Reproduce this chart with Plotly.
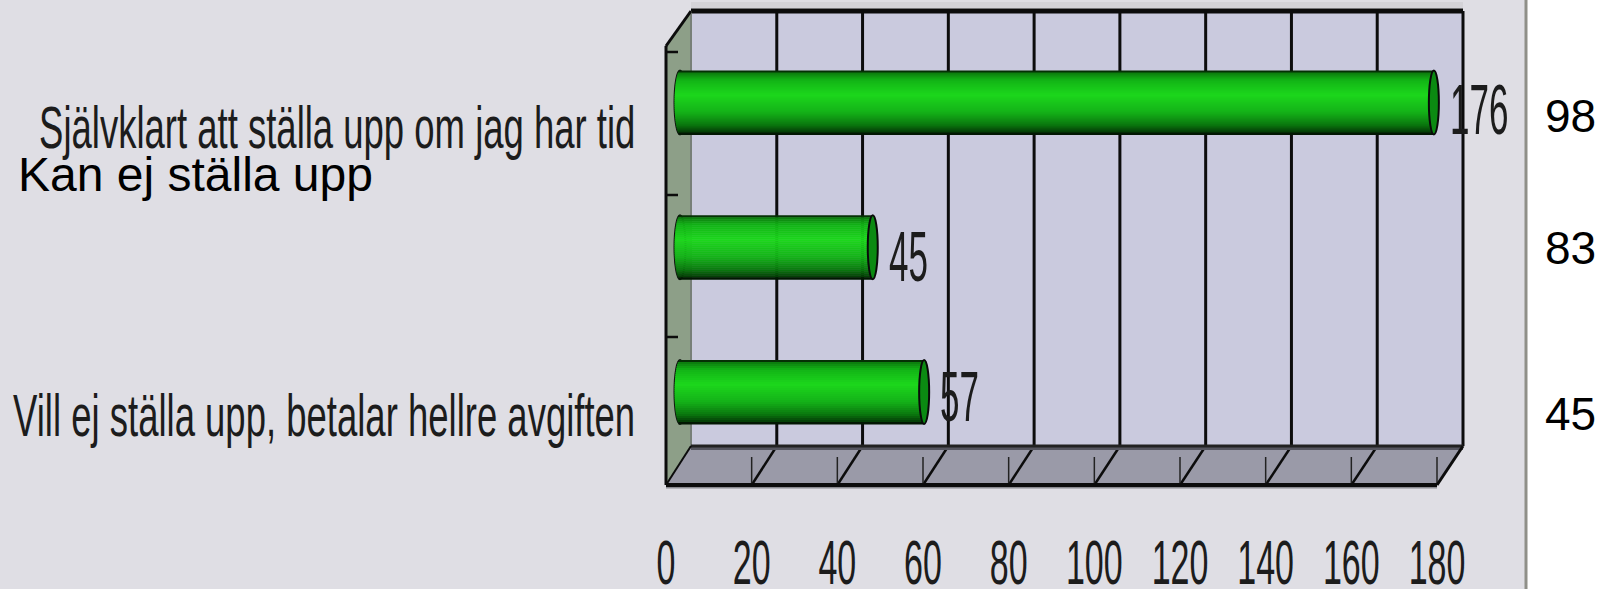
import math
import plotly.graph_objects as go

categories = ["Självklart att ställa upp om jag har tid", "Kan ej ställa upp",
              "Vill ej ställa upp, betalar hellre avgiften"]
values = [176, 45, 57]
side_numbers = ["98", "83", "45"]
tick_vals = [0, 20, 40, 60, 80, 100, 120, 140, 160, 180]

W, H = 1613, 589
ARIAL = "Liberation Sans"
BG = "#DFDEE4"
INK = "#0c0c0c"

# pixel layout of the pseudo-3D box
FX0, FX1 = 666.0, 1437.0      # front edge: value 0 .. 180
BX0, BX1 = 691.0, 1463.0      # back wall
TOP, BACK_B, FRONT_B, FRONT_T = 11.0, 446.0, 485.0, 46.0
PX_PER = (FX1 - FX0) / 180.0
BAR_X0 = 680.0
ROW0, ROW_STEP, BAR_H = 102.5, 144.75, 64.0


def px(x):
    return x / W


def py(y):
    return 1 - y / H


def poly(points, fill, line=None, lw=0, layer="below"):
    path = "M " + " L ".join(f"{px(x):.5f},{py(y):.5f}" for x, y in points) + " Z"
    return dict(type="path", xref="paper", yref="paper", path=path, fillcolor=fill,
                line=dict(color=line or fill, width=lw), layer=layer)


def seg(x0, y0, x1, y1, w=3, color=INK, layer="below"):
    return dict(type="line", xref="paper", yref="paper", x0=px(x0), y0=py(y0), x1=px(x1), y1=py(y1),
                line=dict(color=color, width=w), layer=layer)


shapes = [
    dict(type="rect", xref="paper", yref="paper", x0=px(1527), x1=1, y0=0, y1=1,
         fillcolor="#FFFFFF", line=dict(width=0), layer="below"),
    seg(1526, 0, 1526, H, 3, "#8f8f88"),
    seg(691, 5, 1463, 5, 6, "#d4d3d8"),
    poly([(BX0, TOP), (BX1, TOP), (BX1, BACK_B), (BX0, BACK_B)], "#CACADE"),
    poly([(FX0, FRONT_T), (BX0, TOP), (BX0, BACK_B), (FX0, FRONT_B)], "#8D9F88"),
    poly([(FX0, FRONT_B), (BX0, BACK_B), (BX1, BACK_B), (FX1, FRONT_B)], "#9A9AA8"),
]
for v in tick_vals[1:-1]:
    bx = BX0 + (BX1 - BX0) * v / 180
    fx = FX0 + (FX1 - FX0) * v / 180
    shapes.append(seg(bx, TOP, bx, BACK_B, 3))
    shapes.append(seg(bx, BACK_B, fx, FRONT_B, 2.5))
for v in tick_vals[1:]:
    fx = FX0 + (FX1 - FX0) * v / 180
    shapes.append(seg(fx, 457, fx, FRONT_B, 1.5, "#222222"))
shapes += [
    seg(BX0, BACK_B + 2, BX1, BACK_B + 2, 4, "#55555f"),
    seg(BX0, TOP, BX1, TOP, 5),
    seg(BX1, TOP, BX1, BACK_B, 3),
    seg(BX0, TOP, BX0, BACK_B, 2, "#777f78"),
    seg(BX0, BACK_B, BX1, BACK_B, 3, "#222222"),
    seg(FX0, FRONT_T, BX0, TOP, 3),
    seg(FX0, FRONT_T, FX0, FRONT_B, 3),
    seg(FX0, FRONT_B + 2, FX1, FRONT_B + 2, 3, "#8a8a90"),
    seg(FX0, FRONT_B, FX1, FRONT_B, 4),
    seg(FX0, FRONT_B, BX0, BACK_B, 2),
    seg(FX1, FRONT_B, BX1, BACK_B, 3),
]
for y in (52, 195, 337):
    shapes.append(seg(FX0, y, 678, y, 2.5))

STOPS = [(0.0, (0, 0, 0)), (0.04, (12, 125, 14)), (0.15, (18, 180, 22)), (0.38, (28, 215, 28)),
         (0.65, (20, 178, 24)), (0.85, (10, 120, 14)), (0.96, (4, 60, 6)), (1.0, (0, 0, 0))]


def shade(t):
    for (a, ca), (b, cb) in zip(STOPS, STOPS[1:]):
        if t <= b:
            f = (t - a) / (b - a)
            return "rgb(%d,%d,%d)" % tuple(round(p + (q - p) * f) for p, q in zip(ca, cb))
    return "rgb(0,0,0)"


fig = go.Figure()
fig.add_trace(go.Scatter(x=tick_vals, y=[0] * len(tick_vals), mode="none", xaxis="x", yaxis="y",
                         hoverinfo="skip", showlegend=False))

rows = list(range(len(values)))
N = 32
band = BAR_H / N / ROW_STEP
for i in range(N):
    t = (i + 0.5) / N
    bulge = -(5.5 / PX_PER) * math.sqrt(max(0, 1 - (2 * t - 1) ** 2))
    fig.add_trace(go.Bar(
        orientation="h", y=rows, x=[v - bulge for v in values], base=[bulge] * 3,
        width=band * 1.3, offset=-BAR_H / 2 / ROW_STEP + i * band, opacity=1,
        marker=dict(color=shade(t), line=dict(width=0), opacity=1), xaxis="x2", yaxis="y",
        hoverinfo="skip", showlegend=False))

for i, v in enumerate(values):
    shapes.append(dict(type="circle", xref="x2", yref="y", xsizemode="pixel", ysizemode="pixel",
                       xanchor=0, yanchor=i, x0=-5.5, x1=5.5, y0=-BAR_H / 2, y1=BAR_H / 2,
                       fillcolor="rgba(0,0,0,0)", line=dict(color="#111111", width=2), layer="below"))
    shapes.append(dict(type="circle", xref="x2", yref="y", xsizemode="pixel", ysizemode="pixel",
                       xanchor=v, yanchor=i, x0=-5, x1=5, y0=-BAR_H / 2, y1=BAR_H / 2,
                       fillcolor="#0B8A12", line=dict(color="#0a0a0a", width=2), layer="above"))

annotations = []


def note(text, x, y, anchor, size, color="#1c1c1c", xref="paper", xshift=0):
    annotations.append(dict(text=text, x=x, y=py(y), xref=xref, yref="paper", xanchor=anchor,
                            yanchor="middle", showarrow=False, xshift=xshift,
                            font=dict(size=size, family=ARIAL, color=color)))


note(categories[0], px(637), 127, "right", 36.5)
note(categories[2], px(637), 415, "right", 36.5)
note(categories[1], px(16), 174, "left", 48, "#000000")
LABEL_Y = [110, 256, 396]
for i, v in enumerate(values):
    note(str(v), v, LABEL_Y[i], "left", 35, xref="x2", xshift=14)
    note(side_numbers[i], px(1570), [116, 248, 414][i], "center", 46, "#000000")

fig.update_layout(
    width=W, height=H, margin=dict(l=0, r=0, t=0, b=0, autoexpand=False),
    paper_bgcolor=BG, plot_bgcolor="rgba(0,0,0,0)", barmode="overlay", showlegend=False,
    shapes=shapes, annotations=annotations,
    xaxis=dict(domain=[0, 1], range=[-FX0 / PX_PER, (W - FX0) / PX_PER], tickmode="array",
               tickvals=tick_vals, ticktext=[str(v) for v in tick_vals], showgrid=False,
               zeroline=False, showline=False, ticks="", anchor="free", position=py(FRONT_B),
               ticklabelstandoff=54, tickfont=dict(family=ARIAL, size=34, color="#1c1c1c")),
    xaxis2=dict(domain=[0, 1], range=[-BAR_X0 / PX_PER, (W - BAR_X0) / PX_PER], overlaying="x",
                visible=False, anchor="y"),
    yaxis=dict(domain=[0, 1], range=[(H - ROW0) / ROW_STEP, -ROW0 / ROW_STEP], visible=False),
)

post = """
document.documentElement.style.margin = '0';
document.body.style.margin = '0';
document.body.style.overflow = 'hidden';
function stretch(el, k) {
  var b = el.getBBox();
  var cx = b.x + b.width / 2, cy = b.y + b.height / 2;
  var old = el.getAttribute('transform') || '';
  el.setAttribute('transform', old + ' translate(' + cx + ',' + cy + ') scale(1,' + k + ') translate(' + (-cx) + ',' + (-cy) + ')');
}
document.querySelectorAll('.xtick text').forEach(function (el) { stretch(el, 1.85); });
document.querySelectorAll('.annotation text').forEach(function (el) {
  var s = parseFloat(el.style.fontSize);
  if (s > 40) return;
  stretch(el, s === 35 ? 2.0 : 1.63);
});
"""
fig.write_html("out.html", post_script=post, config=dict(displayModeBar=False))
